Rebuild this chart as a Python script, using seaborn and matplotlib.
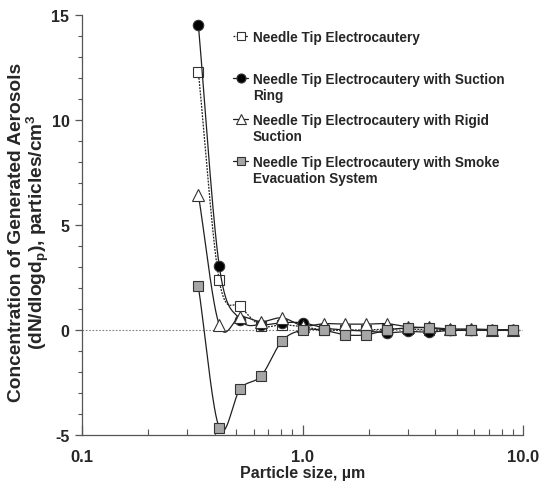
import numpy as np
import pandas as pd
import matplotlib
matplotlib.use("Agg")
import matplotlib.pyplot as plt
import seaborn as sns
from matplotlib.lines import Line2D
from matplotlib.ticker import FixedLocator, FixedFormatter, MultipleLocator, NullFormatter

# ---- data ----
sizes = [0.337, 0.419, 0.522, 0.650, 0.809, 1.007, 1.254, 1.562, 1.944, 2.421,
         3.014, 3.752, 4.672, 5.816, 7.241, 9.016]
needle = [12.3, 2.37, 1.12, 0.20, 0.25, 0.15, 0.00, 0.00, 0.00, 0.05,
          0.05, 0.00, 0.00, 0.00, 0.00, 0.00]
ring = [14.54, 3.07, 0.50, 0.25, 0.35, 0.34, 0.10, 0.00, -0.05, -0.13,
        -0.07, -0.10, -0.02, 0.00, 0.00, 0.00]
rigid = [6.45, 0.25, 0.63, 0.40, 0.58, 0.20, 0.30, 0.28, 0.28, 0.30,
         0.15, 0.12, 0.05, 0.05, 0.02, 0.00]
smoke = [2.08, -4.65, -2.80, -2.18, -0.51, 0.00, -0.02, -0.23, -0.23, 0.00,
         0.10, 0.10, -0.02, 0.00, -0.02, 0.01]
labels = ["Needle Tip Electrocautery",
          "Needle Tip Electrocautery with Suction\nRing",
          "Needle Tip Electrocautery with Rigid\nSuction",
          "Needle Tip Electrocautery with Smoke\nEvacuation System"]
xticks = [0.1, 1.0, 10.0]
xticklabels = ["0.1", "1.0", "10.0"]
yticks = [-5, 0, 5, 10, 15]

sns.set_style("ticks")
plt.rcParams["font.family"] = ["Liberation Sans", "DejaVu Sans"]
plt.rcParams["font.weight"] = "bold"
plt.rcParams["axes.unicode_minus"] = False
plt.rcParams["mathtext.fontset"] = "custom"
plt.rcParams["mathtext.rm"] = "Liberation Sans:bold"
plt.rcParams["mathtext.bf"] = "Liberation Sans:bold"
plt.rcParams["mathtext.it"] = "Liberation Sans:bold"

W, H = 541, 485


def smooth(xs, ys, n=30):
    """Catmull-Rom smoothing in (log10 x, y) space, like a spreadsheet smoothed line."""
    lx = np.log10(np.asarray(xs, float))
    y = np.asarray(ys, float)
    P = np.column_stack([lx, y])
    P = np.vstack([P[0] - (P[1] - P[0]), P, P[-1] + (P[-1] - P[-2])])
    out = []
    t = np.linspace(0, 1, n, endpoint=False)[:, None]
    for i in range(1, len(P) - 2):
        p0, p1, p2, p3 = P[i - 1], P[i], P[i + 1], P[i + 2]
        seg = 0.5 * ((2 * p1) + (-p0 + p2) * t + (2 * p0 - 5 * p1 + 4 * p2 - p3) * t ** 2
                     + (-p0 + 3 * p1 - 3 * p2 + p3) * t ** 3)
        out.append(seg)
    out.append(P[-2][None, :])
    out = np.vstack(out)
    return 10 ** out[:, 0], out[:, 1]


fig, ax = plt.subplots(figsize=(W / 100, H / 100), dpi=100)
fig.subplots_adjust(left=82 / W, right=523 / W, top=1 - 16 / H, bottom=1 - 436 / H)

ax.axhline(0, color="#808080", lw=0.8, ls=(0, (1.5, 1.5)), zorder=1)

styles = [
    dict(marker="s", mfc="white", ls=(0, (1.5, 1.0)), ms=7),
    dict(marker="o", mfc="black", ls="-", ms=7.5),
    dict(marker="^", mfc="white", ls="-", ms=8),
    dict(marker="s", mfc="#a6a6a6", ls="-", ms=7),
]
series = [needle, ring, rigid, smoke]
edge = "#333333"
for k, (vals, st) in enumerate(zip(series, styles)):
    sx, sy = smooth(sizes, vals)
    df_line = pd.DataFrame({"x": sx, "y": sy})
    sns.lineplot(data=df_line, x="x", y="y", ax=ax, color="#202020", lw=0.9,
                 linestyle=st["ls"], sort=False, estimator=None, zorder=2 + 2 * k)
    df_pts = pd.DataFrame({"x": sizes, "y": vals})
    ax.plot(df_pts["x"], df_pts["y"], ls="none", marker=st["marker"], ms=st["ms"],
            mfc=st["mfc"], mec=edge, mew=0.8, zorder=3 + 2 * k)

ax.set_xscale("log")
ax.set_xlim(0.1, 10)
ax.set_ylim(-5, 15)
ax.xaxis.set_major_locator(FixedLocator(xticks))
ax.xaxis.set_major_formatter(FixedFormatter(xticklabels))
ax.xaxis.set_minor_formatter(NullFormatter())
ax.yaxis.set_major_locator(FixedLocator(yticks))
ax.yaxis.set_minor_locator(MultipleLocator(1))

for s in ["top", "right"]:
    ax.spines[s].set_visible(False)
for s in ["left", "bottom"]:
    ax.spines[s].set_color("#555555")
    ax.spines[s].set_linewidth(0.9)

ax.tick_params(axis="x", which="major", direction="in", length=7, width=0.9,
               color="#555555", pad=10, labelsize=12)
ax.tick_params(axis="x", which="minor", direction="in", length=4, width=0.8,
               color="#555555")
ax.tick_params(axis="y", which="major", direction="out", length=5, width=0.9,
               color="#555555", pad=4, labelsize=11.5)
ax.tick_params(axis="y", which="minor", direction="out", length=3, width=0.8,
               color="#555555")
for t in ax.get_xticklabels() + ax.get_yticklabels():
    t.set_fontweight("bold")

ax.set_xlabel("Particle size, µm", fontsize=11.5, fontweight="bold", labelpad=1)
ax.set_ylabel("Concentration of Generated Aerosols\n"
              r"(dN/dlogd$_\mathrm{p}$), particles/cm$^\mathrm{3}$",
              fontsize=13.8, fontweight="bold", linespacing=1.0)
ax.yaxis.set_label_coords((51 - 82) / 441, 0.485)

# ---- legend (drawn in figure pixel positions) ----
leg_y = [37, 79, 120, 162]
for k, (st, lab, yy) in enumerate(zip(styles, labels, leg_y)):
    yf = 1 - yy / H
    fig.add_artist(Line2D([233 / W, 248 / W], [yf, yf], transform=fig.transFigure,
                          color="#202020", lw=0.9, ls=st["ls"]))
    fig.add_artist(Line2D([240.5 / W], [yf], transform=fig.transFigure, ls="none",
                          marker=st["marker"], ms=st["ms"] - 1, mfc=st["mfc"],
                          mec=edge, mew=0.8))
    fig.text(253 / W, 1 - (yy - 6) / H, lab, ha="left", va="top",
             fontsize=9.8, fontweight="bold", linespacing=1.2)

fig.savefig("out.png", dpi=100)
